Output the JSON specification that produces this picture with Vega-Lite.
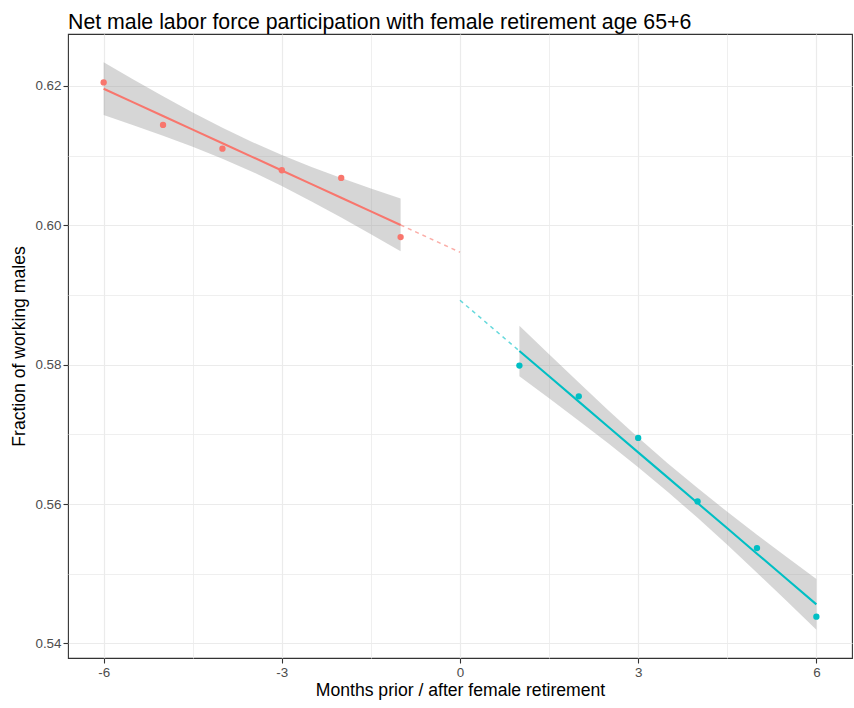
{
  "$schema": "https://vega.github.io/schema/vega-lite/v6.json",
  "width": 784,
  "height": 624,
  "autosize": {"type": "none"},
  "padding": {"left": 68, "top": 34, "right": 2, "bottom": 50},
  "background": "white",
  "config": {
    "view": {"stroke": "#333333", "strokeWidth": 1.1},
    "font": "Liberation Sans"
  },
  "title": {
    "text": "Net male labor force participation with female retirement age 65+6",
    "anchor": "start",
    "frame": "group",
    "baseline": "alphabetic",
    "offset": 8,
    "dy": 24,
    "fontSize": 21.3,
    "fontWeight": "normal",
    "font": "Liberation Sans",
    "color": "#000000"
  },
  "datasets": {
    "points": [
      {"month": -6, "value": 0.6205, "side": "before"},
      {"month": -5, "value": 0.6144, "side": "before"},
      {"month": -4, "value": 0.6110, "side": "before"},
      {"month": -3, "value": 0.6079, "side": "before"},
      {"month": -2, "value": 0.6068, "side": "before"},
      {"month": -1, "value": 0.5983, "side": "before"},
      {"month": 1, "value": 0.57986, "side": "after"},
      {"month": 2, "value": 0.57545, "side": "after"},
      {"month": 3, "value": 0.56948, "side": "after"},
      {"month": 4, "value": 0.56037, "side": "after"},
      {"month": 5, "value": 0.55368, "side": "after"},
      {"month": 6, "value": 0.54383, "side": "after"}
    ],
    "fit": [
      {"month": -6, "fit": 0.61959, "lo": 0.61581, "hi": 0.62338, "side": "before"},
      {"month": -5.5, "fit": 0.61764, "lo": 0.61435, "hi": 0.62093, "side": "before"},
      {"month": -5, "fit": 0.61568, "lo": 0.61284, "hi": 0.61852, "side": "before"},
      {"month": -4.5, "fit": 0.61373, "lo": 0.61126, "hi": 0.61620, "side": "before"},
      {"month": -4, "fit": 0.61177, "lo": 0.60955, "hi": 0.61400, "side": "before"},
      {"month": -3.5, "fit": 0.60982, "lo": 0.60769, "hi": 0.61196, "side": "before"},
      {"month": -3, "fit": 0.60786, "lo": 0.60564, "hi": 0.61009, "side": "before"},
      {"month": -2.5, "fit": 0.60590, "lo": 0.60343, "hi": 0.60837, "side": "before"},
      {"month": -2, "fit": 0.60395, "lo": 0.60111, "hi": 0.60679, "side": "before"},
      {"month": -1.5, "fit": 0.60199, "lo": 0.59870, "hi": 0.60528, "side": "before"},
      {"month": -1, "fit": 0.60004, "lo": 0.59626, "hi": 0.60383, "side": "before"},
      {"month": 1, "fit": 0.58196, "lo": 0.57833, "hi": 0.58559, "side": "after"},
      {"month": 1.5, "fit": 0.57833, "lo": 0.57518, "hi": 0.58149, "side": "after"},
      {"month": 2, "fit": 0.57469, "lo": 0.57196, "hi": 0.57742, "side": "after"},
      {"month": 2.5, "fit": 0.57105, "lo": 0.56868, "hi": 0.57342, "side": "after"},
      {"month": 3, "fit": 0.56741, "lo": 0.56528, "hi": 0.56955, "side": "after"},
      {"month": 3.5, "fit": 0.56378, "lo": 0.56173, "hi": 0.56583, "side": "after"},
      {"month": 4, "fit": 0.56014, "lo": 0.55801, "hi": 0.56228, "side": "after"},
      {"month": 4.5, "fit": 0.55651, "lo": 0.55414, "hi": 0.55888, "side": "after"},
      {"month": 5, "fit": 0.55287, "lo": 0.55014, "hi": 0.55560, "side": "after"},
      {"month": 5.5, "fit": 0.54923, "lo": 0.54608, "hi": 0.55239, "side": "after"},
      {"month": 6, "fit": 0.54560, "lo": 0.54197, "hi": 0.54923, "side": "after"}
    ],
    "extension": [
      {"month": -1, "fit": 0.60004, "side": "before"},
      {"month": 0, "fit": 0.59613, "side": "before"},
      {"month": 0, "fit": 0.58924, "side": "after"},
      {"month": 1, "fit": 0.58196, "side": "after"}
    ]
  },
  "encoding": {
    "x": {
      "field": "month",
      "type": "quantitative",
      "scale": {"domain": [-6.6, 6.6], "nice": false, "zero": false},
      "axis": {
        "title": "Months prior / after female retirement",
        "values": [-6, -4.5, -3, -1.5, 0, 1.5, 3, 4.5, 6],
        "labelExpr": "abs(datum.value % 3) == 0 ? '' + datum.value : ''",
        "domain": false,
        "grid": true,
        "gridColor": "#EBEBEB",
        "gridWidth": {"condition": {"test": "abs(datum.value % 3) == 0", "value": 1.2}, "value": 0.8},
        "tickColor": "#333333",
        "tickOpacity": {"condition": {"test": "abs(datum.value % 3) == 0", "value": 1}, "value": 0},
        "tickSize": 5,
        "tickWidth": 1.1,
        "labelColor": "#4D4D4D",
        "labelFontSize": 13.4,
        "labelFont": "Liberation Sans",
        "labelPadding": 2,
        "titleFont": "Liberation Sans",
        "titleFontSize": 17.6,
        "titleFontWeight": "normal",
        "titleColor": "#000000",
        "titlePadding": 3
      }
    }
  },
  "layer": [
    {
      "data": {"name": "fit"},
      "mark": {"type": "area", "color": "#999999", "opacity": 0.4},
      "encoding": {
        "y": {
          "field": "lo",
          "type": "quantitative",
          "scale": {"domain": [0.5379, 0.62745], "nice": false, "zero": false},
          "axis": {
            "title": "Fraction of working males",
            "values": [0.54, 0.55, 0.56, 0.57, 0.58, 0.59, 0.60, 0.61, 0.62],
            "format": ".2f",
            "labelExpr": "round(datum.value * 100) % 2 == 0 ? datum.label : ''",
            "domain": false,
            "grid": true,
            "gridColor": "#EBEBEB",
            "gridWidth": {"condition": {"test": "round(datum.value * 100) % 2 == 0", "value": 1.2}, "value": 0.8},
            "tickColor": "#333333",
            "tickOpacity": {"condition": {"test": "round(datum.value * 100) % 2 == 0", "value": 1}, "value": 0},
            "tickSize": 5,
            "tickWidth": 1.1,
            "labelColor": "#4D4D4D",
            "labelFontSize": 13.4,
            "labelFont": "Liberation Sans",
            "labelPadding": 2,
            "titleFont": "Liberation Sans",
            "titleFontSize": 17.6,
            "titleFontWeight": "normal",
            "titleColor": "#000000",
            "titlePadding": 6
          }
        },
        "y2": {"field": "hi"},
        "detail": {"field": "side"}
      }
    },
    {
      "data": {"name": "extension"},
      "mark": {"type": "line", "strokeWidth": 1.5, "strokeDash": [4, 4], "opacity": 0.6},
      "encoding": {
        "y": {"field": "fit", "type": "quantitative"},
        "color": {
          "field": "side",
          "type": "nominal",
          "scale": {"domain": ["before", "after"], "range": ["#F8766D", "#00BFC4"]},
          "legend": null
        }
      }
    },
    {
      "data": {"name": "fit"},
      "mark": {"type": "line", "strokeWidth": 2.1},
      "encoding": {
        "y": {"field": "fit", "type": "quantitative"},
        "color": {"field": "side", "type": "nominal", "legend": null}
      }
    },
    {
      "data": {"name": "points"},
      "mark": {"type": "circle", "size": 40, "opacity": 1},
      "encoding": {
        "y": {"field": "value", "type": "quantitative"},
        "color": {"field": "side", "type": "nominal", "legend": null}
      }
    }
  ]
}
